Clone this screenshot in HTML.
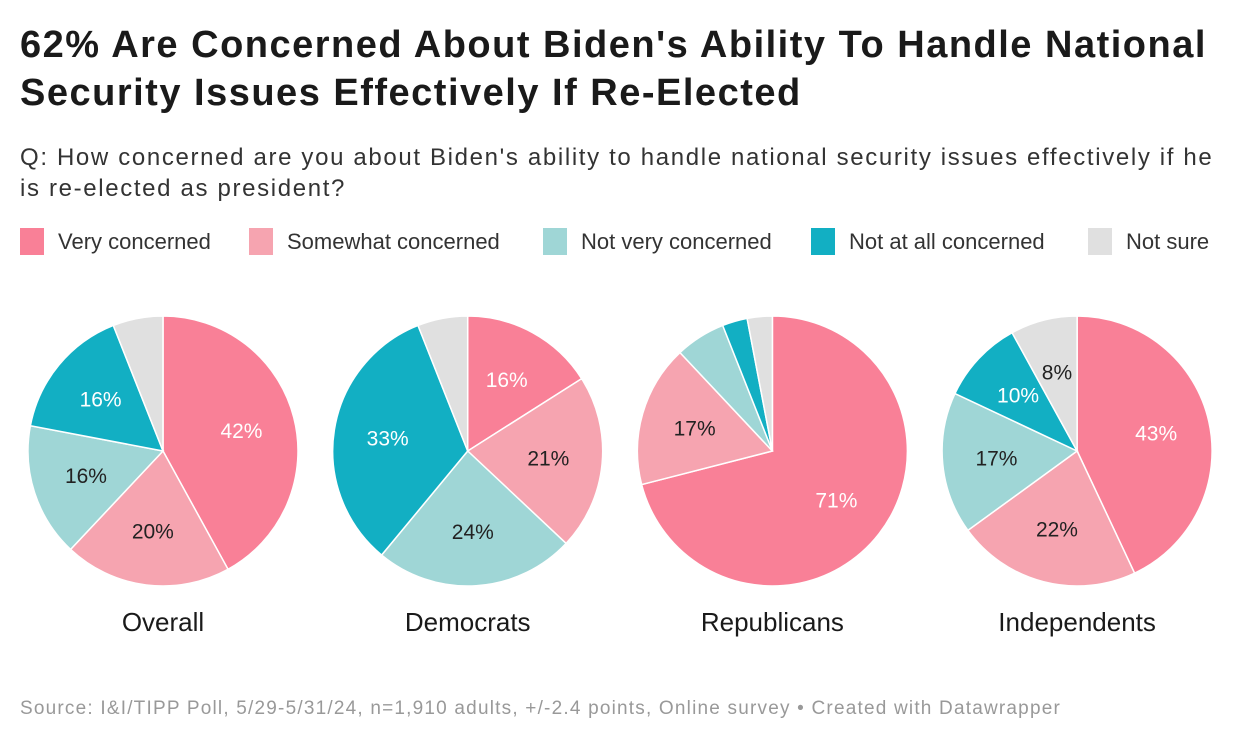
<!DOCTYPE html>
<html><head><meta charset="utf-8"><style>
body{margin:0;width:1240px;height:744px;background:#fff;font-family:"Liberation Sans",Arial,sans-serif;color:#1a1a1a;position:relative;overflow:hidden}
.t{position:absolute;left:20px;top:21px;font-size:38px;font-weight:bold;line-height:48px;letter-spacing:1.5px;white-space:nowrap}
.s{position:absolute;left:20px;top:142px;font-size:24px;line-height:31px;color:#333;letter-spacing:1.65px;white-space:nowrap}
.lg{position:absolute;top:228px;font-size:22px;display:flex;align-items:center;color:#333}
.sw{width:24px;height:27px;margin-right:14px}
.src{position:absolute;left:20px;top:698px;font-size:19px;color:#999;letter-spacing:1.2px;white-space:nowrap}
</style></head><body>
<div class="t">62% Are Concerned About Biden's Ability To Handle National<br>Security Issues Effectively If Re-Elected</div>
<div class="s">Q: How concerned are you about Biden's ability to handle national security issues effectively if he<br>is re-elected as president?</div>
<div class="lg" style="left:20px"><div class="sw" style="background:#f98097"></div>Very concerned</div>
<div class="lg" style="left:249px"><div class="sw" style="background:#f6a4b0"></div>Somewhat concerned</div>
<div class="lg" style="left:543px"><div class="sw" style="background:#9fd6d6"></div>Not very concerned</div>
<div class="lg" style="left:811px"><div class="sw" style="background:#12afc3"></div>Not at all concerned</div>
<div class="lg" style="left:1088px"><div class="sw" style="background:#e0e0e0"></div>Not sure</div>
<svg id="c" width="1240" height="744" style="position:absolute;left:0;top:0"></svg>
<div class="src">Source: I&amp;I/TIPP Poll, 5/29-5/31/24, n=1,910 adults, +/-2.4 points, Online survey • Created with Datawrapper</div>
<script>
const groups=["Overall","Democrats","Republicans","Independents"];
const veryConcerned=[42,16,71,43];
const somewhatConcerned=[20,21,17,22];
const notVeryConcerned=[16,24,6,17];
const notAtAllConcerned=[16,33,3,10];
const notSure=[6,6,3,8];
const series=[veryConcerned,somewhatConcerned,notVeryConcerned,notAtAllConcerned,notSure];
const colors=["#f98097","#f6a4b0","#9fd6d6","#12afc3","#e0e0e0"];
const textColors=["#fff","#222","#222","#fff","#222"];
const keys=["very","somewhat","not-very","not-at-all","not-sure"];
const svg=document.getElementById('c');const NS="http://www.w3.org/2000/svg";
const cx0=163,dx=304.7,cy=451,R=135;
groups.forEach((g,i)=>{
 const cx=cx0+i*dx;
 const total=series.reduce((a,s)=>a+s[i],0);
 let acc=0;
 series.forEach((s,k)=>{
  const v=s[i];const a0=acc/total*2*Math.PI;acc+=v;const a1=acc/total*2*Math.PI;
  const x0=cx+R*Math.sin(a0),y0=cy-R*Math.cos(a0),x1=cx+R*Math.sin(a1),y1=cy-R*Math.cos(a1);
  const p=document.createElementNS(NS,'path');
  p.setAttribute('d',`M${cx},${cy}L${x0},${y0}A${R},${R} 0 ${a1-a0>Math.PI?1:0} 1 ${x1},${y1}Z`);
  p.setAttribute('fill',colors[k]);p.setAttribute('stroke','#fff');p.setAttribute('stroke-width','1.5');
  
  
  svg.appendChild(p);
  if(v>=8){const am=(a0+a1)/2,r=R*0.6;
   const t=document.createElementNS(NS,'text');
   t.setAttribute('x',cx+r*Math.sin(am));t.setAttribute('y',cy-r*Math.cos(am)+7);
   t.setAttribute('text-anchor','middle');t.setAttribute('font-size','21');t.setAttribute('fill',textColors[k]);
   t.setAttribute('font-family','Liberation Sans, sans-serif');
   t.textContent=v+'%';
   
   
   svg.appendChild(t);}
 });
 const l=document.createElementNS(NS,'text');
 l.setAttribute('x',cx);l.setAttribute('y',631);l.setAttribute('text-anchor','middle');l.setAttribute('font-size','26');l.setAttribute('fill','#1a1a1a');
 l.setAttribute('font-family','Liberation Sans, sans-serif');
 l.textContent=g;
 
 
 svg.appendChild(l);
});
</script>
</body></html>
